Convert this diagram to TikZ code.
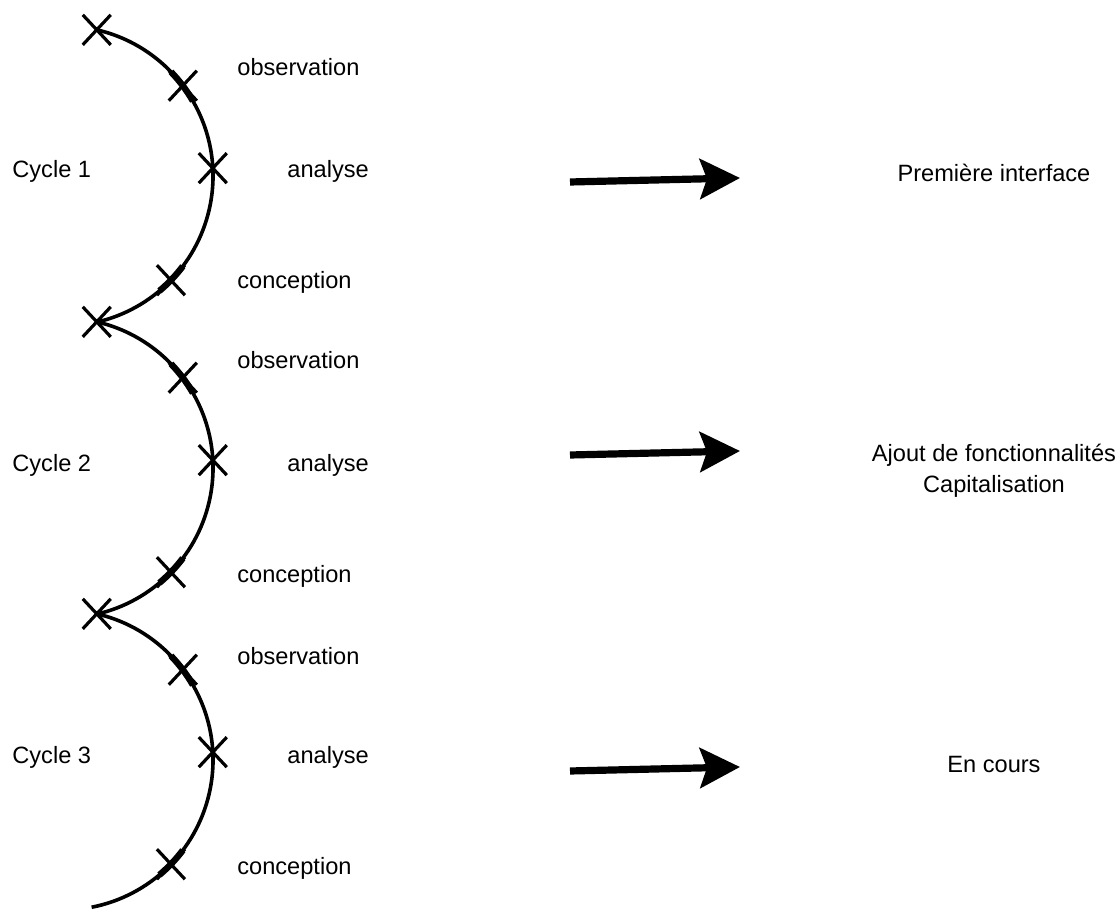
\documentclass[tikz,border=0pt]{standalone}
\usepackage{fontspec}
\setmainfont{Liberation Sans}
\usetikzlibrary{arrows.meta}

\begin{document}
\begin{tikzpicture}[x=0.5pt,y=0.5pt,
    lbl/.style={font=\fontsize{11.8}{14}\selectfont,anchor=base west,inner sep=0pt},
    res/.style={font=\fontsize{11.8}{14}\selectfont,anchor=base,inner sep=0pt},
    curve/.style={line width=1.8pt},
    tick/.style={line width=3.2pt},
    crossmark/.style={line width=1.6pt},
    bigarrow/.style={line width=3.6pt,-{Stealth[length=20pt,width=20pt,inset=3.5pt]}}]
  \useasboundingbox (0,0) rectangle (1120,-913);
  \def\r{150}
  \foreach \c/\yc/\yo/\yn/\yk/\ya/\yb/\ae in {
    1/176/76/178/289/182/178/77,
    2/468/369/472/583/455/451/77,
    3/760/665/764/875/771/767/79} {
    \coordinate (o\c) at (63,-\yc);
    \draw[curve] (o\c) ++(77:\r) arc[start angle=77,end angle=-\ae,radius=\r];
    \draw[tick] (o\c) ++(44:\r) arc[start angle=44,end angle=30,radius=\r];
    \draw[tick] (o\c) ++(-37:\r) arc[start angle=-37,end angle=-50,radius=\r];
    \foreach \a in {77,37,3,-44}
      \draw[crossmark] (o\c) ++(\a:\r) +(-14,-15) -- +(14,15) +(-14,15) -- +(14,-15);
    \node[lbl] (cyc\c) at (12,-\yn) {Cycle \c};
    \node[lbl] (obs\c) at (237,-\yo) {observation};
    \node[lbl] (ana\c) at (287,-\yn) {analyse};
    \node[lbl] (con\c) at (237,-\yk) {conception};
    \coordinate (from\c) at (570,-\ya);
    \coordinate (to\c) at (740,-\yb);
    \draw[bigarrow] (from\c) -- (to\c);
  }
  \node[res] (res1) at (994,-182) {Première interface};
  \node[res] (res2a) at (994,-462) {Ajout de fonctionnalités};
  \node[res] (res2b) at (994,-493) {Capitalisation};
  \node[res] (res3) at (994,-773) {En cours};
\end{tikzpicture}
\end{document}
